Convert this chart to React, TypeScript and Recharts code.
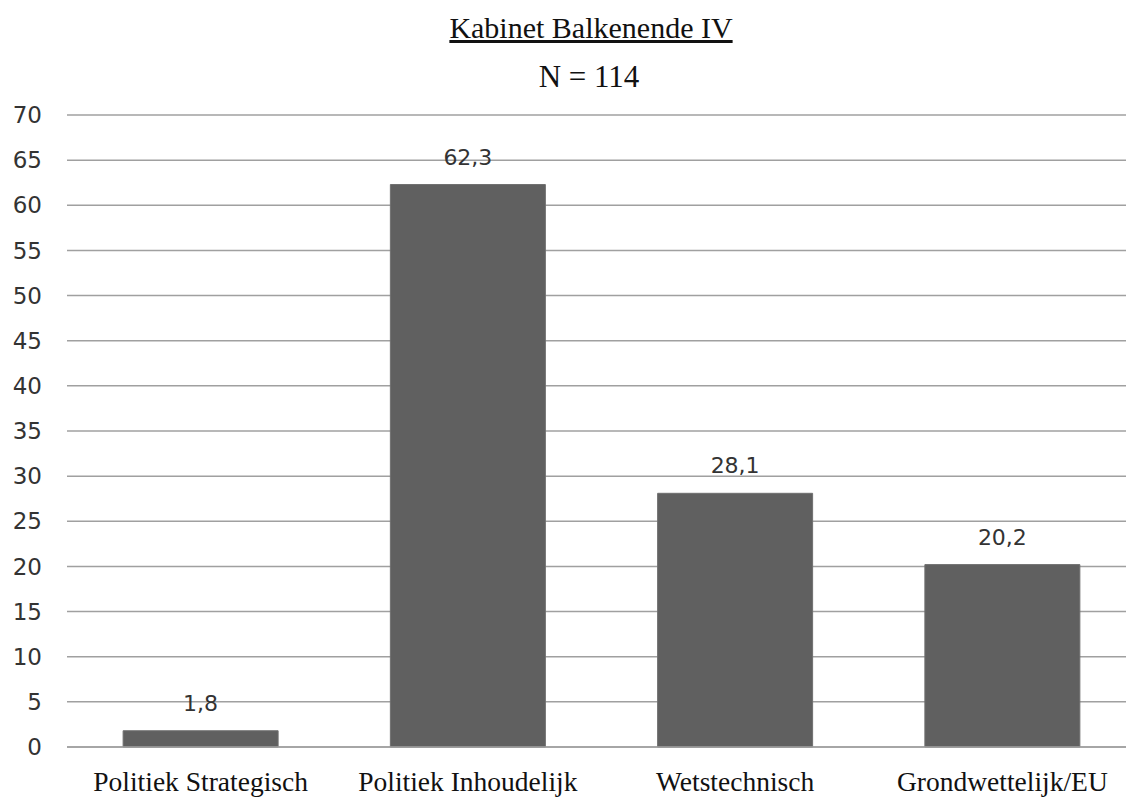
import React from "react";
import { BarChart, Bar, XAxis, YAxis, CartesianGrid, LabelList } from "recharts";

const categories = ["Politiek Strategisch", "Politiek Inhoudelijk", "Wetstechnisch", "Grondwettelijk/EU"];
const values = [1.8, 62.3, 28.1, 20.2];
const yTicks = [0, 5, 10, 15, 20, 25, 30, 35, 40, 45, 50, 55, 60, 65, 70];
const title = "Kabinet Balkenende IV";
const subtitle = "N = 114";

const data = categories.map((c, i) => ({ name: c, value: values[i] }));

const fmt = (v: any) => String(v).replace(".", ",");

export default function App() {
  return (
    <div style={{ position: "absolute", left: 0, top: 0, width: 1126, height: 801, overflow: "hidden", background: "#fff" }}>
      <BarChart
        width={1136}
        height={801}
        data={data}
        margin={{ top: 115, right: 0, bottom: 0, left: 0 }}
        barCategoryGap="21%"
      >
        <CartesianGrid vertical={false} stroke="#a0a0a0" strokeWidth={1.5} />
        <XAxis
          dataKey="name"
          axisLine={{ stroke: "#a0a0a0", strokeWidth: 1.5 }}
          tickLine={false}
          height={54}
          tickMargin={18}
          tick={{ fontFamily: "Liberation Serif", fontSize: 27.5, fill: "#111" }}
          interval={0}
        />
        <YAxis
          domain={[0, 70]}
          ticks={yTicks}
          width={67}
          axisLine={false}
          tickLine={false}
          tickSize={0}
          tickMargin={25}
          tick={{ fontFamily: "DejaVu Sans", fontSize: 23, fill: "#333" }}
          interval={0}
        />
        <Bar dataKey="value" fill="#606060" stroke="#707070" isAnimationActive={false}>
          <LabelList dataKey="value" position="top" offset={20} formatter={fmt} style={{ fontFamily: "DejaVu Sans", fontSize: 22, fill: "#333" }} />
        </Bar>
      </BarChart>
      <svg width={1126} height={801} style={{ position: "absolute", left: 0, top: 0, pointerEvents: "none" }}>
        <text x={591} y={38} textAnchor="middle" fontFamily="Liberation Serif" fontSize={30} fill="#111" textDecoration="underline">
          {title}
        </text>
        <text x={589} y={87} textAnchor="middle" fontFamily="Liberation Serif" fontSize={31} fill="#111">
          {subtitle}
        </text>
      </svg>
    </div>
  );
}
